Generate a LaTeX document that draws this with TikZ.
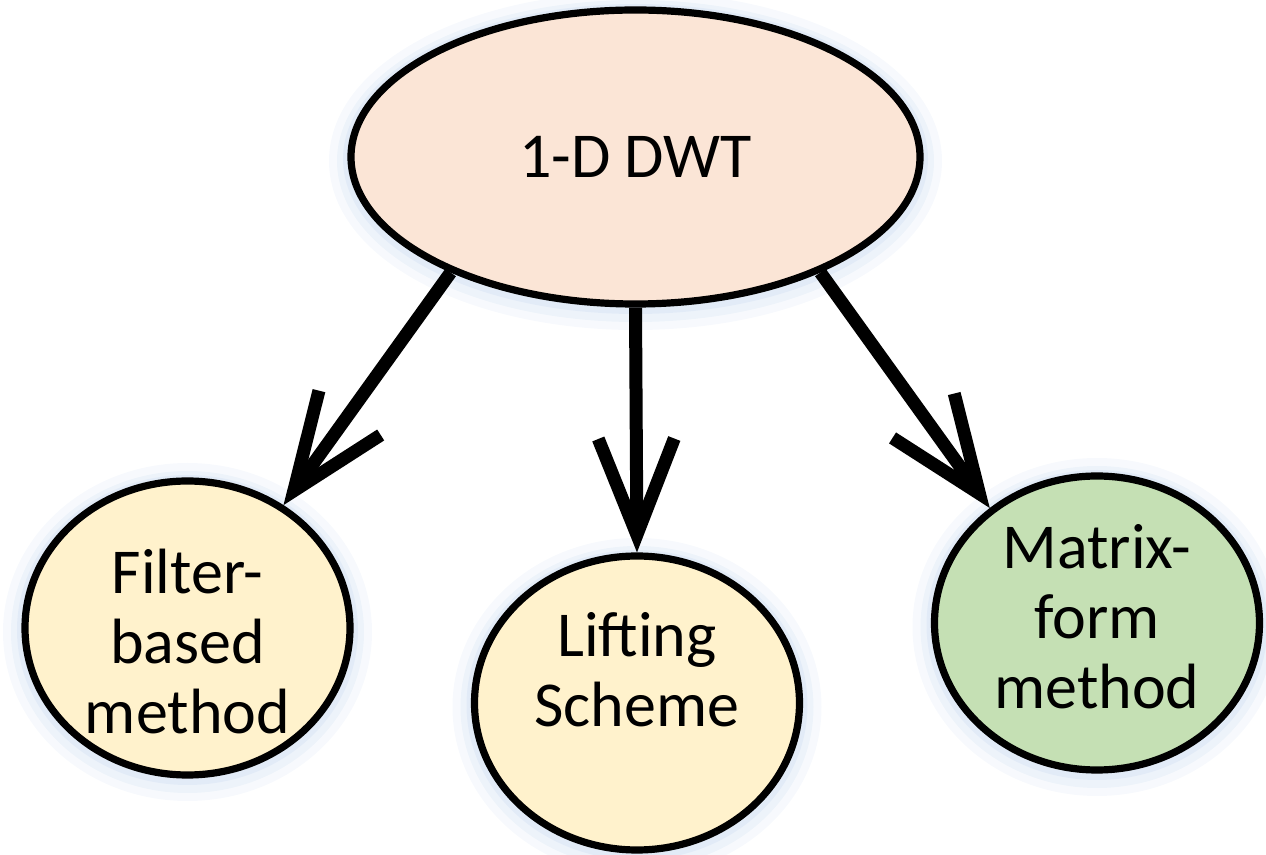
\documentclass[tikz,border=0pt]{standalone}
\usepackage{fontspec}
\setmainfont{Carlito}
\usetikzlibrary{shapes.geometric,arrows.meta}
\definecolor{peach}{HTML}{FBE5D6}
\definecolor{cream}{HTML}{FFF2CC}
\definecolor{sage}{HTML}{C5E0B4}
\definecolor{glowc}{HTML}{C9DAF0}
\begin{document}
\begin{tikzpicture}[x=0.5pt,y=-0.5pt,
  glow/.style={
    preaction={draw=glowc, line width=22pt, opacity=0.15, transform canvas={yshift=-2pt}},
    preaction={draw=glowc, line width=14pt, opacity=0.22, transform canvas={yshift=-2pt}},
    preaction={draw=glowc, line width=8pt, opacity=0.3, transform canvas={yshift=-1pt}}},
  bub/.style={ellipse, draw=black, line width=3.6pt, inner sep=0pt,
    minimum width=162.5pt, minimum height=147pt, glow},
  lbl/.style={font=\fontsize{32pt}{35pt}\selectfont, align=center, inner sep=0pt, text=black},
  arr/.style={draw=black, line width=6.5pt,
    -{Straight Barb[length=48pt, width=38pt, line join=miter, line cap=butt]}}
]
\useasboundingbox (0,0) rectangle (1266,855);
\node[bub, fill=peach, minimum width=284.5pt] (top) at (635.5,157) {};
\node[bub, fill=cream] (left) at (187.5,628) {};
\node[bub, fill=cream] (mid) at (637,703) {};
\node[bub, fill=sage] (right) at (1097,623) {};

\node[lbl] (ttop) at (635.5,157) {1-D DWT};
\node[lbl] (tleft) at (187.5,642) {Filter-\\based\\method};
\node[lbl] (tmid) at (637,670) {Lifting\\Scheme};
\node[lbl] (tright) at (1097,617) {Matrix-\\form\\method};

\draw[arr] (top.212) -- (left.52);
\draw[arr] (top.south) -- (mid.north);
\draw[arr] (top.328) -- (right.133);
\end{tikzpicture}
\end{document}
